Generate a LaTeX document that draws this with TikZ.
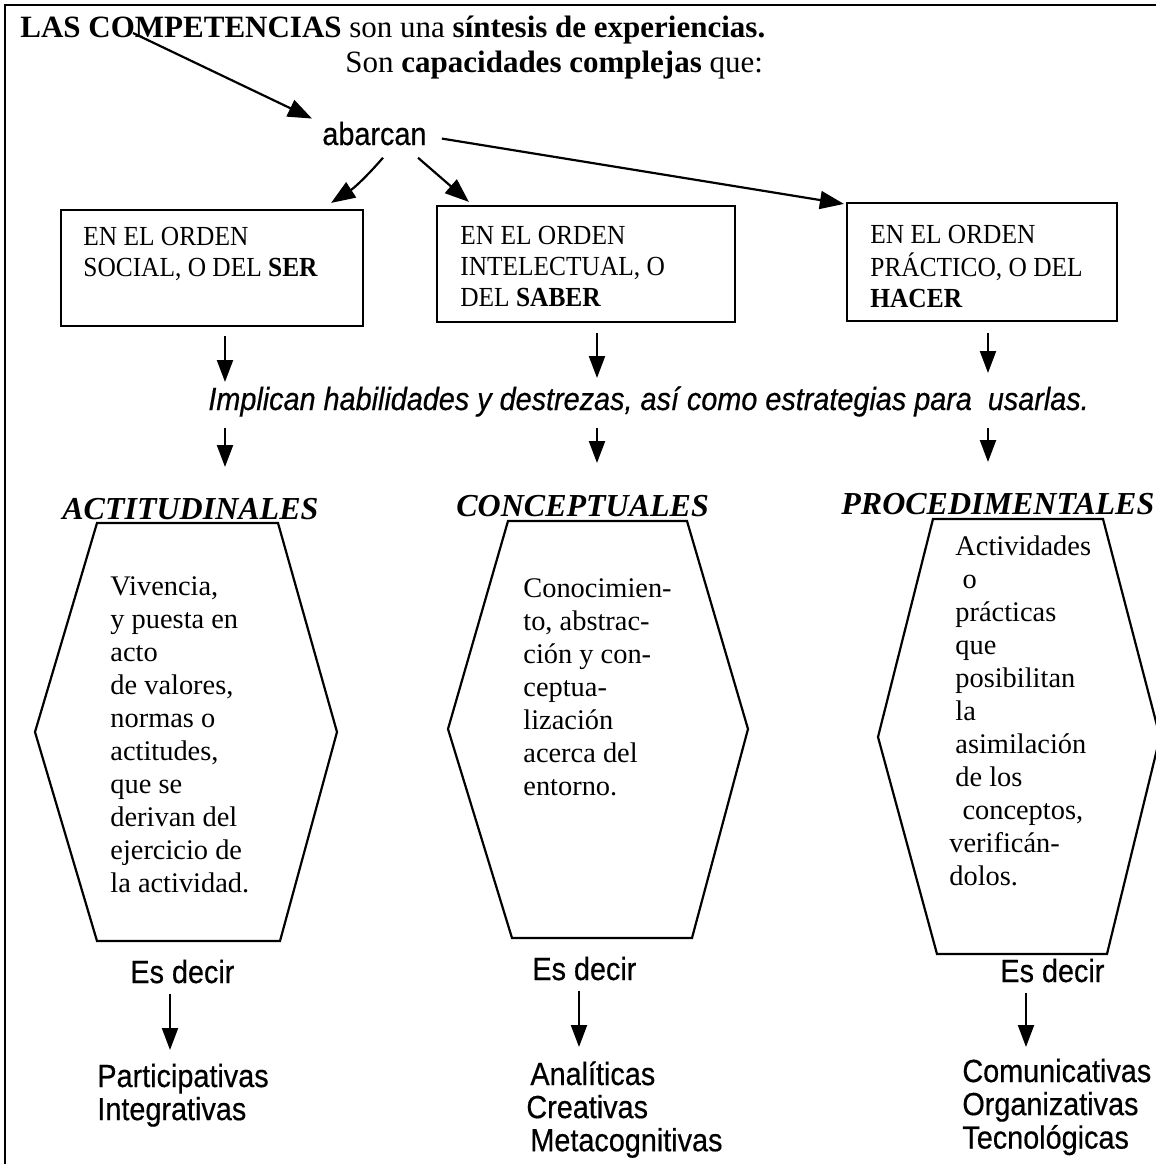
\documentclass[tikz,border=0pt]{standalone}
\usepackage{fontspec}
\setmainfont{Liberation Serif}
\newfontfamily\sansf{Liberation Sans}[FakeStretch=0.9,FakeBold=0.5]
\newfontfamily\boxf{Liberation Serif}[FakeStretch=0.92]
\usetikzlibrary{arrows.meta,calc}
\newcommand\mlines[1]{\begin{tabular}[t]{@{}l@{}}#1\end{tabular}}
\begin{document}
\begin{tikzpicture}[x=0.5pt,y=-0.5pt,
  arr/.style={line width=1.1pt,-{Triangle[length=11pt,width=8pt]}},
  bigarr/.style={line width=1.1pt,-{Triangle[length=12pt,width=9pt]}},
  framest/.style={line width=1pt},
  boxst/.style={draw,line width=1.1pt,minimum width=151pt,minimum height=58pt,inner sep=0pt},
  boxtext/.style={font=\boxf\fontsize{13.8}{15.5}\selectfont,inner sep=0pt,anchor=base west},
  titlest/.style={font=\fontsize{15.5}{18}\selectfont,inner sep=0pt,anchor=base west},
  hext/.style={font=\fontsize{14.2}{16.5}\selectfont,inner sep=0pt,anchor=base west},
  head/.style={font=\fontsize{16}{19}\selectfont\bfseries\itshape,inner sep=0pt,anchor=base west},
  sanst/.style={font=\sansf\fontsize{16}{16.5}\selectfont,inner sep=0pt,anchor=base west},
  hexst/.style={draw,line width=1.1pt}]
\useasboundingbox (0,0) rectangle (1156,1164);
\clip (0,0) rectangle (1156,1164);
\fill[white] (0,0) rectangle (1156,1164);
% frame
\draw[framest] (5,1180) -- (5,5) -- (1180,5);
% title
\node[titlest] (title) at (20,37) {\textbf{LAS COMPETENCIAS} son una \textbf{síntesis de experiencias.}};
\node[titlest] (title2) at (345,72) {Son \textbf{capacidades complejas} que:};
\node[sanst] (ab) at (322,145) {abarcan};
\coordinate (tA) at (133,33);
\draw[bigarr] (tA) -- ($(ab.west)+(-10,-15)$);
% boxes
\node[boxst, minimum width=151pt] (b1) at (212,268) {};
\node[boxst, minimum width=149pt] (b2) at (586,264) {};
\node[boxst, minimum width=135pt, minimum height=59pt] (b3) at (982,262) {};
\node[boxtext] (t1) at (83,245) {\mlines{EN EL ORDEN\\SOCIAL, O DEL \textbf{SER}}};
\node[boxtext] (t2) at (460,244) {\mlines{EN EL ORDEN\\INTELECTUAL, O\\DEL \textbf{SABER}}};
\node[boxtext] (t3) at (870,243) {\mlines{EN EL ORDEN\\PRÁCTICO, O DEL\\\textbf{HACER}}};
% arrows from abarcan
\draw[bigarr] ($(ab.south west)+(61,12)$) to[bend left=8] ($(b1.north east)+(-33,-6)$);
\draw[bigarr] ($(ab.south west)+(96,12)$) -- ($(b2.north west)+(33,-3)$);
\draw[bigarr] ($(ab.east)+(15,5)$) -- ($(b3.north west)+(-2,2)$);
% implican
\node[sanst, font=\sansf\itshape\fontsize{16}{16.5}\selectfont] (impl) at (208,410) {Implican habilidades y destrezas, así como estrategias para \ usarlas.};
\coordinate (d1a) at (225,336); \coordinate (d1b) at (225,382);
\coordinate (d2a) at (597,333); \coordinate (d2b) at (597,378);
\coordinate (d3a) at (988,333); \coordinate (d3b) at (988,373);
\draw[arr] (d1a) -- (d1b);
\draw[arr] (d2a) -- (d2b);
\draw[arr] (d3a) -- (d3b);
\coordinate (e1a) at (225,428); \coordinate (e1b) at (225,467);
\coordinate (e2a) at (597,428); \coordinate (e2b) at (597,463);
\coordinate (e3a) at (988,428); \coordinate (e3b) at (988,462);
\draw[arr] (e1a) -- (e1b);
\draw[arr] (e2a) -- (e2b);
\draw[arr] (e3a) -- (e3b);
% hexagons
\draw[hexst] (97,523) -- (278,523) -- (337,732) -- (280,941) -- (97,941) -- (35,732) -- cycle;
\draw[hexst] (508,521) -- (687,521) -- (748,729) -- (692,938) -- (512,938) -- (448,729) -- cycle;
\draw[hexst] (933,519) -- (1103,519) -- (1160,737) -- (1107,954) -- (937,954) -- (878,737) -- cycle;
% headings
\node[head] (h1) at (62,519) {ACTITUDINALES};
\node[head] (h2) at (456,516) {CONCEPTUALES};
\node[head] (h3) at (841,514) {PROCEDIMENTALES};
% hex texts
\node[hext] (x1) at (110,595) {\mlines{Vivencia,\\y puesta en\\acto\\de valores,\\normas o\\actitudes,\\que se\\derivan del\\ejercicio de\\la actividad.}};
\node[hext] (x2) at (523,597) {\mlines{Conocimien-\\to, abstrac-\\ción y con-\\ceptua-\\lización\\acerca del\\entorno.}};
\node[hext] (x3) at (955,555) {\mlines{Actividades\\\ o\\prácticas\\que\\posibilitan\\la\\asimilación\\de los\\\ conceptos,\\\hspace{-3pt}verificán-\\\hspace{-3pt}dolos.}};
% es decir
\node[sanst] (s1) at (130,983) {Es decir};
\node[sanst] (s2) at (532,980) {Es decir};
\node[sanst] (s3) at (1000,982) {Es decir};
\coordinate (f1b) at (170,1050);
\coordinate (f2b) at (579,1047);
\coordinate (f3b) at (1026,1047);
\draw[arr] (s1.south -| f1b) ++(0,10) -- (f1b);
\draw[arr] (s2.south -| f2b) ++(0,10) -- (f2b);
\draw[arr] (s3.south -| f3b) ++(0,10) -- (f3b);
% lists
\node[sanst] (l1) at (97,1087) {\mlines{Participativas\\Integrativas}};
\node[sanst] (l2) at (530,1085) {\mlines{Analíticas\\\hspace{-2pt}Creativas\\Metacognitivas}};
\node[sanst] (l3) at (962,1082) {\mlines{Comunicativas\\Organizativas\\Tecnológicas}};
\end{tikzpicture}
\end{document}
